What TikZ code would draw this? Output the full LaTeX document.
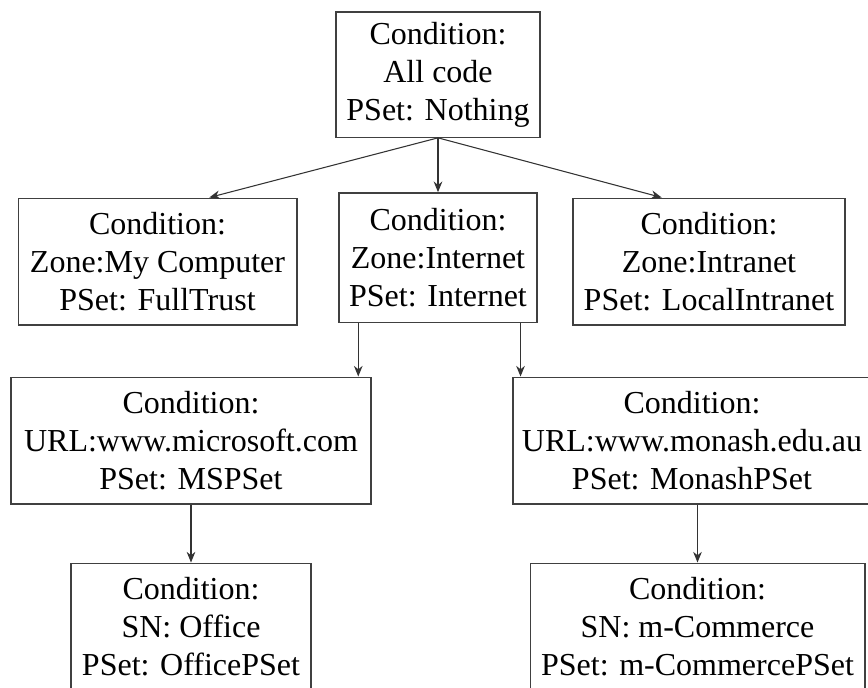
\documentclass[tikz,border=0pt]{standalone}
\usepackage{fontspec}
\setmainfont{Liberation Serif}
\usetikzlibrary{calc,arrows.meta}

\begin{document}
\begin{tikzpicture}[x=0.75pt, y=-0.75pt,
    cond/.style={draw=black!75, line width=1pt, align=center, inner sep=0pt,
      font=\fontsize{24}{28.5}\selectfont},
    link/.style={draw=black!80, line width=0.8pt, -{Stealth[length=8pt,width=6.5pt]}}]

    % Rahmen des Bildes
    \clip (0,0) rectangle (868,687);

    % --- Wurzel ---
    \node[cond, minimum width=153pt, minimum height=94pt] (allcode) at (438,74.5)
        {Condition:\\All code\\PSet: Nothing};

    % --- Zonen ---
    \node[cond, minimum width=209pt, minimum height=95pt] (mycomp) at (157.5,261.5)
        {Condition:\\Zone:My Computer\\PSet: FullTrust};
    \node[cond, minimum width=148.5pt, minimum height=97pt] (internet) at (438,257.5)
        {Condition:\\Zone:Internet\\PSet: Internet};
    \node[cond, minimum width=204pt, minimum height=95pt] (intranet) at (709,261.5)
        {Condition:\\Zone:Intranet\\PSet: LocalIntranet};

    % --- URL ---
    \node[cond, minimum width=270pt, minimum height=95pt] (microsoft) at (191,440.5)
        {Condition:\\URL:www.microsoft.com\\PSet: MSPSet};
    \node[cond, minimum width=268.5pt, minimum height=95pt] (monash) at (692,440.5)
        {Condition:\\URL:www.monash.edu.au\\PSet: MonashPSet};

    % --- Strong Name ---
    \node[cond, minimum width=180pt, minimum height=95pt] (office) at (191,626.5)
        {Condition:\\SN: Office\\PSet: OfficePSet};
    \node[cond, minimum width=251pt, minimum height=95pt] (mcommerce) at (697.5,626.5)
        {Condition:\\SN: m-Commerce\\PSet: m-CommercePSet};

    % Pfeile
    \draw[link] (allcode.south) -- ($(mycomp.north west)!0.685!(mycomp.north east)$);
    \draw[link] (allcode.south) -- (internet.north);
    \draw[link] (allcode.south) -- ($(intranet.north west)!0.327!(intranet.north east)$);

    \coordinate (msout) at ($(internet.south west)!0.1!(internet.south east)$);
    \coordinate (monout) at ($(internet.south west)!0.914!(internet.south east)$);
    \draw[link] (msout) -- (msout |- microsoft.north);
    \draw[link] (monout) -- (monout |- monash.north);

    \draw[link] (microsoft.south) -- (office.north);
    \draw[link] (mcommerce.north |- monash.south) -- (mcommerce.north);

\end{tikzpicture}
\end{document}
